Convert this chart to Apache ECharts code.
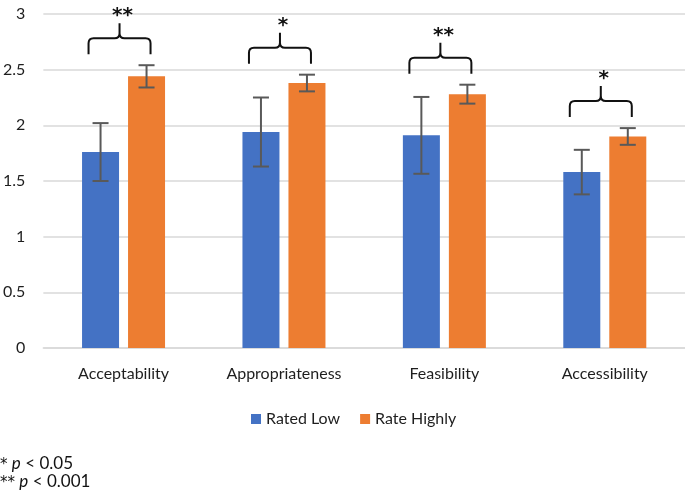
<!DOCTYPE html>
<html>
<head>
<meta charset="utf-8">
<script src="https://cdn.jsdelivr.net/npm/echarts@6/dist/echarts.min.js"></script>
<style>html,body{margin:0;padding:0;background:#fff}#c{width:685px;height:499px}</style>
</head>
<body>
<div id="c"></div>
<script>
const categories = ['Acceptability', 'Appropriateness', 'Feasibility', 'Accessibility'];
const ratedLow = [1.76, 1.94, 1.91, 1.58];
const rateHighly = [2.44, 2.38, 2.28, 1.90];
const errLow = [0.26, 0.31, 0.345, 0.20];
const errHigh = [0.10, 0.075, 0.085, 0.075];
const significance = ['**', '*', '**', '*'];
const seriesNames = ['Rated Low', 'Rate Highly'];

const FONT = 'Lato';
const TXT = '#1e1e1e';
const BAR_W = 37, BAR_GAP = 9;
const OFF = (BAR_W + BAR_GAP) / 2;

function errRender(offset) {
  return function (params, api) {
    const i = api.value(0), v = api.value(1), e = api.value(2);
    const top = api.coord([i, v + e]);
    const bot = api.coord([i, v - e]);
    const x = top[0] + offset;
    const cap = 8;
    const st = { stroke: '#595959', lineWidth: 2 };
    return {
      type: 'group',
      children: [
        { type: 'line', shape: { x1: x, y1: top[1], x2: x, y2: bot[1] }, style: st },
        { type: 'line', shape: { x1: x - cap, y1: top[1], x2: x + cap, y2: top[1] }, style: st },
        { type: 'line', shape: { x1: x - cap, y1: bot[1], x2: x + cap, y2: bot[1] }, style: st }
      ]
    };
  };
}

const braceData = categories.map((c, i) => [i, Math.max(ratedLow[i] + errLow[i], rateHighly[i] + errHigh[i])]);

function braceRender(params, api) {
  const i = api.value(0);
  const p = api.coord([i, api.value(1)]);
  const M = p[0] - 4;
  const L = M - 31, R = M + 31;
  const yb = p[1] - 11, yl = yb - 16, yt = yl - 15;
  const r = 5;
  const d = `M${L},${yb} L${L},${yl + r} Q${L},${yl} ${L + r},${yl} L${M - r},${yl} Q${M},${yl} ${M},${yl - r} L${M},${yt}` +
            ` M${M},${yl - r} Q${M},${yl} ${M + r},${yl} L${R - r},${yl} Q${R},${yl} ${R},${yl + r} L${R},${yb}`;
  return {
    type: 'group',
    children: [
      { type: 'path', shape: { pathData: d }, style: { stroke: '#111', lineWidth: 2, fill: null } },
      { type: 'text', x: M + 3, y: yt - 7, style: { text: significance[i], font: 'bold 20px "DejaVu Sans"', fill: '#111', align: 'center', verticalAlign: 'middle' } }
    ]
  };
}

const footRich = {
  s: { fontFamily: 'DejaVu Sans', fontSize: 15, padding: [2, 0, 0, 0] },
  i: { fontStyle: 'italic', fontFamily: FONT, fontSize: 17 }
};

const chart = echarts.init(document.getElementById('c'), null, { renderer: 'canvas' });
chart.setOption({
  animation: false,
  backgroundColor: '#fff',
  textStyle: { fontFamily: FONT },
  grid: { left: 39, right: 0, top: 14, bottom: 151, containLabel: false },
  legend: {
    data: seriesNames,
    left: 246, top: 406,
    icon: 'rect', itemWidth: 10, itemHeight: 10, itemGap: 20,
    textStyle: { fontFamily: FONT, fontSize: 16, color: TXT }
  },
  xAxis: {
    type: 'category',
    data: categories,
    axisLine: { show: true, lineStyle: { color: '#d9d9d9', width: 1.5 } },
    axisTick: { show: false },
    axisLabel: { fontFamily: FONT, fontSize: 16, color: TXT, margin: 18 }
  },
  yAxis: {
    type: 'value',
    min: 0, max: 3, interval: 0.5,
    axisLine: { show: false },
    axisTick: { show: false },
    splitLine: { lineStyle: { color: '#d9d9d9', width: 1.5 } },
    axisLabel: { fontFamily: FONT, fontSize: 16, color: TXT, margin: 18 }
  },
  series: [
    { name: seriesNames[0], type: 'bar', data: ratedLow, barWidth: BAR_W, barGap: (BAR_GAP / BAR_W * 100) + '%', itemStyle: { color: '#4472C4' } },
    { name: seriesNames[1], type: 'bar', data: rateHighly, barWidth: BAR_W, itemStyle: { color: '#ED7D31' } },
    { type: 'custom', data: ratedLow.map((v, i) => [i, v, errLow[i]]), renderItem: errRender(-OFF), encode: { x: 0, y: 1 }, z: 5, silent: true },
    { type: 'custom', data: rateHighly.map((v, i) => [i, v, errHigh[i]]), renderItem: errRender(OFF), encode: { x: 0, y: 1 }, z: 5, silent: true },
    { type: 'custom', data: braceData, renderItem: braceRender, encode: { x: 0, y: 1 }, z: 6, silent: true, clip: false }
  ],
  graphic: [
    { type: 'text', x: 0, y: 464, style: { text: '{s|*} {i|p} < 0.05', font: '17px ' + FONT, fill: '#111', verticalAlign: 'middle', rich: footRich } },
    { type: 'text', x: 0, y: 482, style: { text: '{s|**} {i|p} < 0.001', font: '17px ' + FONT, fill: '#111', verticalAlign: 'middle', rich: footRich } }
  ]
});
</script>
</body>
</html>
